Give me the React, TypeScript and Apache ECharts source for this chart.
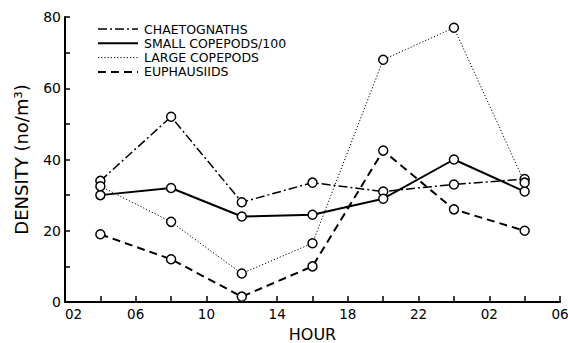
import React, { useEffect, useRef } from "react";
import * as echarts from "echarts";

const hours = [4, 8, 12, 16, 20, 24, 28];
const seriesNames = ["CHAETOGNATHS", "SMALL COPEPODS/100", "LARGE COPEPODS", "EUPHAUSIIDS"];
const chaetognaths = [34, 52, 28, 33.5, 31, 33, 34.5];
const smallCopepods = [30, 32, 24, 24.5, 29, 40, 31];
const largeCopepods = [32.5, 22.5, 8, 16.5, 68, 77, 33.5];
const euphausiids = [19, 12, 1.5, 10, 42.5, 26, 20];
const yTickLabels = [0, 20, 40, 60, 80];

const FONT = "DejaVu Sans";
const dashes: (number[] | "solid")[] = [[9, 3, 2, 3], "solid", [1.2, 2], [8, 5]];
const widths = [1.5, 2, 1, 2];
const allData = [chaetognaths, smallCopepods, largeCopepods, euphausiids];

export default function App() {
  const ref = useRef<HTMLDivElement>(null);
  useEffect(() => {
    const chart = echarts.init(ref.current!, null, { renderer: "svg" });
    const series = allData.map((d, i) => ({
      name: seriesNames[i],
      type: "line",
      data: hours.map((h, j) => [h, d[j]]),
      symbol: "circle",
      symbolSize: 9,
      itemStyle: { color: "#fff", borderColor: "#000", borderWidth: 1.5 },
      lineStyle: { color: "#000", width: widths[i], type: dashes[i] },
      z: 2,
    }));
    const legendGraphics: any[] = [];
    seriesNames.forEach((n, i) => {
      const y = 29 + i * 14.3;
      legendGraphics.push({
        type: "line",
        shape: { x1: 98, y1: y, x2: 138, y2: y },
        style: {
          stroke: "#000",
          lineWidth: widths[i],
          lineDash: dashes[i] === "solid" ? null : dashes[i],
        },
      });
      legendGraphics.push({
        type: "text",
        x: 144,
        y: y,
        style: {
          text: n,
          font: `12.5px ${FONT}`,
          lineHeight: 12.5,
          fill: "#000",
          verticalAlign: "middle",
        },
      });
    });
    chart.setOption({
      animation: false,
      grid: { left: 65, right: 8, top: 17, bottom: 41, outerBoundsMode: "none", containLabel: false },
      xAxis: {
        type: "value",
        min: 2,
        max: 30,
        interval: 2,
        name: "HOUR",
        nameLocation: "middle",
        nameGap: 24,
        nameTextStyle: { fontFamily: FONT, fontSize: 16, color: "#000", lineHeight: 16 },
        axisLine: { lineStyle: { color: "#000", width: 2 } },
        axisTick: { inside: true, length: 6, lineStyle: { color: "#000", width: 1.5 } },
        axisLabel: {
          margin: 5,
          fontFamily: FONT,
          fontSize: 13.5,
          color: "#000",
          alignMinLabel: "left",
          formatter: (v: number) =>
            (v - 2) % 4 === 0 ? String(v % 24).padStart(2, "0") : "",
        },
        splitLine: { show: false },
      },
      yAxis: {
        type: "value",
        min: 0,
        max: 80,
        interval: 10,
        name: "DENSITY (no/m³)",
        nameLocation: "middle",
        nameGap: 35,
        nameTextStyle: { fontFamily: FONT, fontSize: 18, color: "#000" },
        axisLine: { show: true, lineStyle: { color: "#000", width: 2 } },
        axisTick: { show: true, inside: true, length: 5, lineStyle: { color: "#000", width: 1.5 } },
        axisLabel: {
          margin: 4,
          fontFamily: FONT,
          fontSize: 14,
          color: "#000",
          formatter: (v: number) => (yTickLabels.includes(v) ? String(v) : ""),
        },
        splitLine: { show: false },
      },
      graphic: legendGraphics,
      series,
    });
    return () => chart.dispose();
  }, []);
  return <div ref={ref} style={{ width: 568, height: 343, position: "absolute", left: 0, top: 0, background: "#fff" }} />;
}
